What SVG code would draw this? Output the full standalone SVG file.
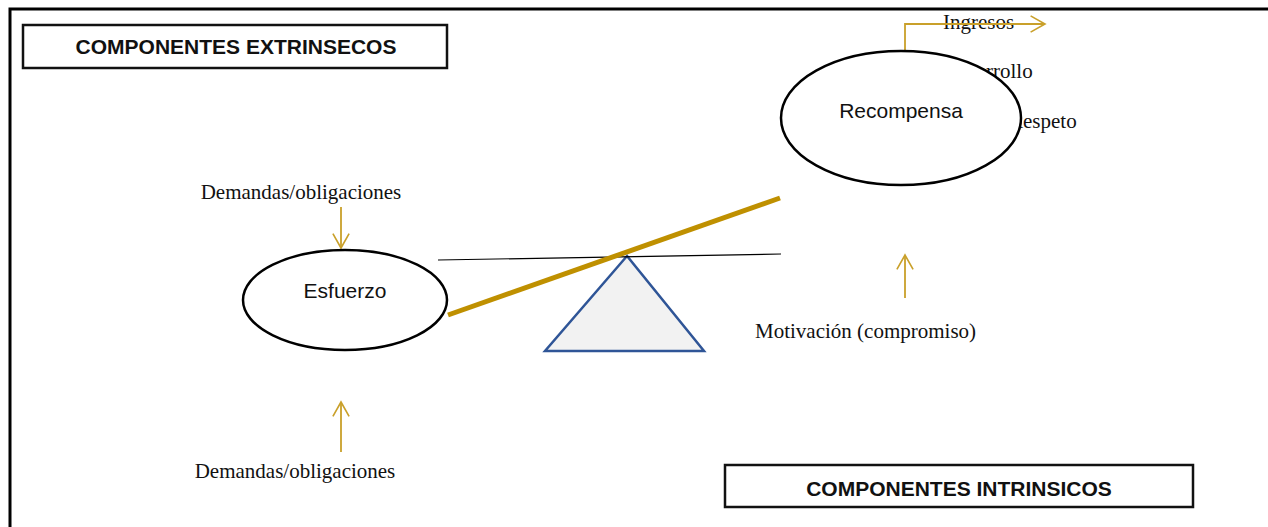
<svg xmlns="http://www.w3.org/2000/svg" width="1268" height="527" viewBox="0 0 1268 527">
<style>
.serif{font-family:"Liberation Serif","Times New Roman",serif;font-size:21px;fill:#111}
.sans{font-family:"Liberation Sans",Arial,sans-serif;font-size:21px;fill:#111}
.title{font-family:"Liberation Sans",Arial,sans-serif;font-size:21px;font-weight:bold;fill:#111}
.box{fill:#fff;stroke:#111;stroke-width:2.5}
.ell{fill:#fff;stroke:#000;stroke-width:2.5}
.arr{fill:none;stroke:#C9A02A;stroke-width:1.8}
</style>
<defs>
<marker id="v" viewBox="0 0 20 20" refX="18" refY="10" markerWidth="18" markerHeight="18" markerUnits="userSpaceOnUse" orient="auto">
<path d="M2,1 L18,10 L2,19" fill="none" stroke="#C9A02A" stroke-width="1.8"/>
</marker>
</defs>
<rect width="1268" height="527" fill="#fff"/>
<g id="frame">
<path d="M10,527 V9 H1268" fill="none" stroke="#000" stroke-width="3"/>
</g>
<g id="extrinsecos">
<rect class="box" x="23" y="25" width="424" height="43"/>
<text class="title" x="236" y="54" text-anchor="middle">COMPONENTES EXTRINSECOS</text>
</g>
<g id="intrinsecos">
<rect class="box" x="725" y="465" width="468" height="42"/>
<text class="title" x="959" y="496" text-anchor="middle">COMPONENTES INTRINSICOS</text>
</g>
<g id="labels-recompensa">
<text class="serif" x="943" y="29">Ingresos</text>
<text class="serif" x="944" y="78">Desarrollo</text>
<text class="serif" x="1009" y="128">Respeto</text>
</g>
<g id="connectors">
<path class="arr" d="M905,51 V24 H1045" marker-end="url(#v)"/>
<path class="arr" d="M341,207 V248" marker-end="url(#v)"/>
<path class="arr" d="M341,452 V402" marker-end="url(#v)"/>
<path class="arr" d="M905,298 V255" marker-end="url(#v)"/>
</g>
<g id="recompensa">
<ellipse class="ell" cx="901" cy="118" rx="120" ry="67"/>
<text class="sans" x="901" y="118" text-anchor="middle">Recompensa</text>
</g>
<g id="esfuerzo">
<ellipse class="ell" cx="345" cy="300" rx="102" ry="50"/>
<text class="sans" x="345" y="298" text-anchor="middle">Esfuerzo</text>
</g>
<g id="balanza">
<polygon points="627,256 545,351 704,351" fill="#f2f2f2" stroke="#2F5597" stroke-width="2.5"/>
<line x1="438" y1="260" x2="781" y2="254" stroke="#000" stroke-width="1.2"/>
<line x1="448" y1="315" x2="780" y2="198" stroke="#BF9000" stroke-width="5"/>
</g>
<g id="textos">
<text class="serif" x="301" y="199" text-anchor="middle">Demandas/obligaciones</text>
<text class="serif" x="295" y="478" text-anchor="middle">Demandas/obligaciones</text>
<text class="serif" x="755" y="338">Motivación (compromiso)</text>
</g>
</svg>
